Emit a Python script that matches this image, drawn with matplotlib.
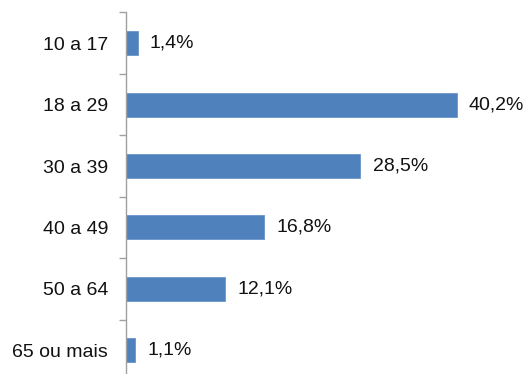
import matplotlib.pyplot as plt
import numpy as np

plt.rcParams['font.family'] = ['Liberation Sans', 'DejaVu Sans']

faixas = ['10 a 17', '18 a 29', '30 a 39', '40 a 49', '50 a 64', '65 ou mais']
valores = [1.4, 40.2, 28.5, 16.8, 12.1, 1.1]
rotulos = ['1,4%', '40,2%', '28,5%', '16,8%', '12,1%', '1,1%']

fig = plt.figure(figsize=(5.28, 3.74), dpi=100)
# the axes runs a little past the bottom edge of the figure
ax = fig.add_axes([126/528, -7/374, 370/528, 368.5/374])

y = np.arange(len(faixas))
ax.barh(y, valores, height=0.39, color='#4F81BD', edgecolor='#6A95CB', linewidth=0.6)

for yi, v, r in zip(y, valores, rotulos):
    ax.text(v + 1.5, yi, r, va='center', ha='left', fontsize=14, color='#111111')

ax.set_xlim(0, 45)
ax.set_ylim(len(faixas) - 0.5, -0.5)
ax.set_yticks(y)
ax.set_yticklabels(faixas, fontsize=14, color='#111111')
ax.set_yticks(np.arange(-0.5, len(faixas)), minor=True)
ax.tick_params(axis='y', which='major', length=0, pad=13)
ax.tick_params(axis='y', which='minor', length=5, color='#A0A0A0', width=1)
ax.set_xticks([])

for s in ['top', 'right', 'bottom']:
    ax.spines[s].set_visible(False)
ax.spines['left'].set_color('#A0A0A0')
ax.spines['left'].set_linewidth(1)

plt.savefig('out.png', dpi=100)
